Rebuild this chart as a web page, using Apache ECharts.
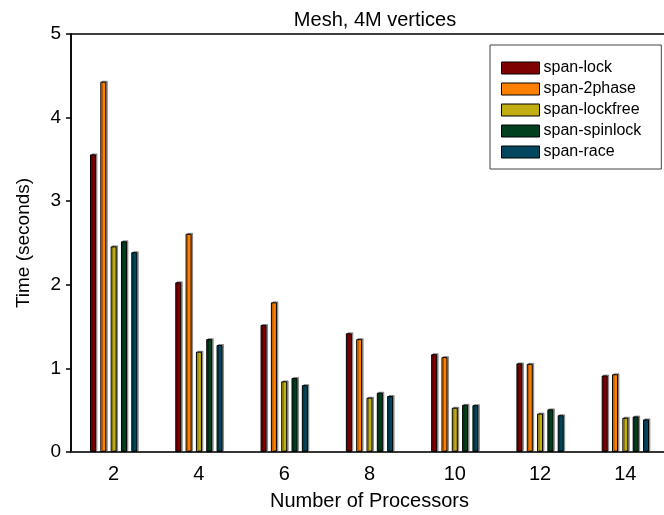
<!DOCTYPE html>
<html>
<head>
<meta charset="utf-8">
<script src="https://cdn.jsdelivr.net/npm/echarts@6/dist/echarts.min.js"></script>
<style>
  html, body { margin: 0; padding: 0; background: #fff; }
  #chart { width: 664px; height: 515px; }
</style>
</head>
<body>
<div id="chart"></div>
<script>
// Processor counts along the x axis
const processors = ['2', '4', '6', '8', '10', '12', '14'];

// Run times in seconds for each spanning-tree variant
const spanLock     = [3.56, 2.03, 1.52, 1.42, 1.17, 1.06, 0.915];
const span2phase   = [4.43, 2.61, 1.79, 1.35, 1.135, 1.055, 0.93];
const spanLockfree = [2.46, 1.20, 0.845, 0.65, 0.53, 0.46, 0.41];
const spanSpinlock = [2.52, 1.35, 0.885, 0.71, 0.565, 0.51, 0.425];
const spanRace     = [2.39, 1.28, 0.80, 0.67, 0.56, 0.44, 0.39];

const seriesNames  = ['span-lock', 'span-2phase', 'span-lockfree', 'span-spinlock', 'span-race'];
const seriesValues = [spanLock, span2phase, spanLockfree, spanSpinlock, spanRace];
const seriesColors = ['#7f0000', '#ff8000', '#c2ad12', '#00401e', '#03475e'];

const FONT = '"Liberation Sans", Arial, Helvetica, sans-serif';

const chart = echarts.init(document.getElementById('chart'), null, { renderer: 'canvas' });

chart.setOption({
  animation: false,
  backgroundColor: '#ffffff',
  textStyle: { fontFamily: FONT, color: '#000' },
  title: {
    text: 'Mesh, 4M vertices',
    left: 370,
    textAlign: 'center',
    top: 5,
    textStyle: { fontFamily: FONT, fontSize: 20, fontWeight: 'normal', color: '#000' }
  },
  // plot frame runs past the right edge of the canvas
  grid: {
    left: 71,
    width: 597,
    top: 34,
    height: 418,
    outerBoundsMode: 'none',
    containLabel: false,
    show: true,
    borderColor: '#000',
    borderWidth: 1.5,
    backgroundColor: 'transparent'
  },
  legend: {
    orient: 'vertical',
    left: 490,
    top: 45,
    padding: [15, 20, 9, 11],
    itemWidth: 38,
    itemHeight: 12,
    itemGap: 5,
    borderColor: '#444',
    borderWidth: 1,
    icon: 'rect',
    data: seriesNames,
    itemStyle: { borderColor: '#000', borderWidth: 1 },
    textStyle: { fontFamily: FONT, fontSize: 16, color: '#000', padding: [0, 0, 0, -1] }
  },
  xAxis: {
    type: 'category',
    data: processors,
    name: 'Number of Processors',
    nameLocation: 'middle',
    nameGap: 39,
    nameTextStyle: { fontFamily: FONT, fontSize: 20, color: '#000' },
    axisLine: { lineStyle: { color: '#333', width: 1.5 } },
    axisTick: { alignWithLabel: true, length: 5, lineStyle: { color: '#333', width: 1.5 } },
    axisLabel: { fontFamily: FONT, fontSize: 20, color: '#000', margin: 12 },
    splitLine: { show: false }
  },
  yAxis: {
    type: 'value',
    min: 0,
    max: 5,
    interval: 1,
    name: 'Time (seconds)',
    nameLocation: 'middle',
    nameGap: 38,
    nameRotate: 90,
    nameTextStyle: { fontFamily: FONT, fontSize: 19, color: '#000' },
    axisLine: { show: true, lineStyle: { color: '#000', width: 1.5 } },
    axisTick: { show: true, length: 5, lineStyle: { color: '#000', width: 1.5 } },
    axisLabel: { fontFamily: FONT, fontSize: 19, color: '#000', margin: 10 },
    splitLine: { show: false }
  },
  series: seriesNames.map((name, i) => ({
    name: name,
    type: 'bar',
    data: seriesValues[i],
    barWidth: 6,
    barGap: '72%',
    itemStyle: {
      color: seriesColors[i],
      borderColor: '#000',
      borderWidth: 1,
      shadowColor: 'rgba(0,0,0,0.35)',
      shadowOffsetX: 1.5,
      shadowOffsetY: -1,
      shadowBlur: 0
    }
  }))
});
</script>
</body>
</html>
